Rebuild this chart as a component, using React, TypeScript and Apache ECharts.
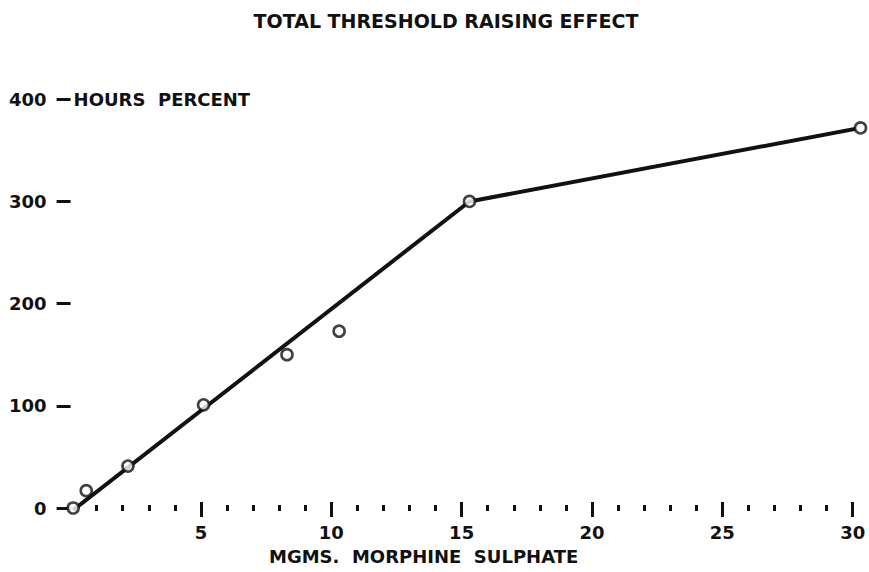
import React, { useEffect, useRef } from "react";
import * as echarts from "echarts";

// Measured points (dose in mg morphine sulphate, threshold raising effect in hours percent)
const doseMg = [0.1, 0.6, 2.2, 5.1, 8.3, 10.3, 15.3, 30.3];
const effectHoursPct = [0, 17, 41, 101, 150, 173, 300, 372];

// Drawn curve through the points
const curveDose = [0.1, 15.3, 30.3];
const curveEffect = [-2, 300, 372];

// Axis ticks / labels
const xMajorTicks = [5, 10, 15, 20, 25, 30];
const xMinorTicks = [1, 2, 3, 4, 6, 7, 8, 9, 11, 12, 13, 14, 16, 17, 18, 19, 21, 22, 23, 24, 26, 27, 28, 29];
const yTicks = [0, 100, 200, 300, 400];

const titleText = "TOTAL THRESHOLD RAISING EFFECT";
const xName = "MGMS.  MORPHINE  SULPHATE";
const yName = "HOURS  PERCENT";

const FONT = "DejaVu Sans";
const INK = "#111111";

export default function App() {
  const ref = useRef<HTMLDivElement>(null);

  useEffect(() => {
    if (!ref.current) return;
    const chart = echarts.init(ref.current, undefined, { renderer: "svg" });
    const pts = doseMg.map((d, i) => [d, effectHoursPct[i]]);
    const curve = curveDose.map((d, i) => [d, curveEffect[i]]);
    chart.setOption({
      animation: false,
      backgroundColor: "#ffffff",
      title: {
        text: titleText,
        left: 441,
        top: 6,
        textAlign: "center",
        textStyle: { fontFamily: FONT, fontSize: 19, fontWeight: "bold", color: INK },
      },
      grid: { left: 70.6, right: 16.3, top: 99.3, bottom: 64 },
      xAxis: [
        {
          type: "value",
          min: 0,
          max: 30,
          offset: -6,
          axisLine: { show: false },
          splitLine: { show: false },
          axisTick: {
            show: true,
            customValues: xMajorTicks,
            length: 15,
            lineStyle: { color: INK, width: 3 },
          },
          axisLabel: {
            customValues: xMajorTicks,
            margin: 21,
            fontFamily: FONT,
            fontSize: 18,
            fontWeight: "bold",
            color: INK,
          },
          name: xName,
          nameLocation: "middle",
          nameGap: 45,
          nameTextStyle: {
            fontFamily: FONT,
            fontSize: 18,
            fontWeight: "bold",
            color: INK,
            padding: [0, 76, 0, 0],
          },
        },
        {
          type: "value",
          min: 0,
          max: 30,
          position: "bottom",
          offset: -3,
          axisLine: { show: false },
          splitLine: { show: false },
          axisTick: {
            show: true,
            customValues: xMinorTicks,
            length: 6,
            lineStyle: { color: INK, width: 3 },
          },
          axisLabel: { show: false },
        },
      ],
      yAxis: {
        type: "value",
        min: 0,
        max: 400,
        interval: 100,
        offset: 4,
        axisLine: { show: false },
        splitLine: { show: false },
        axisTick: {
          show: true,
          customValues: yTicks,
          length: 14,
          lineStyle: { color: INK, width: 3 },
        },
        axisLabel: {
          customValues: yTicks,
          margin: 20,
          fontFamily: FONT,
          fontSize: 18,
          fontWeight: "bold",
          color: INK,
        },
        name: yName,
        nameLocation: "end",
        nameGap: 0,
        nameTextStyle: {
          fontFamily: FONT,
          fontSize: 18,
          fontWeight: "bold",
          color: INK,
          align: "left",
          verticalAlign: "middle",
          padding: [0, 0, 0, 3],
        },
      },
      series: [
        {
          type: "line",
          xAxisIndex: 0,
          data: curve,
          clip: false,
          symbol: "none",
          lineStyle: { color: INK, width: 4 },
          z: 2,
        },
        {
          type: "scatter",
          xAxisIndex: 0,
          data: pts,
          clip: false,
          symbol: "circle",
          symbolSize: 11,
          itemStyle: { color: "#ffffff", borderColor: INK, borderWidth: 2.6 },
          z: 3,
        },
      ],
    });
    return () => chart.dispose();
  }, []);

  return (
    <div
      ref={ref}
      style={{ position: "fixed", left: 0, top: 0, width: 869, height: 572, background: "#fff" }}
    />
  );
}
